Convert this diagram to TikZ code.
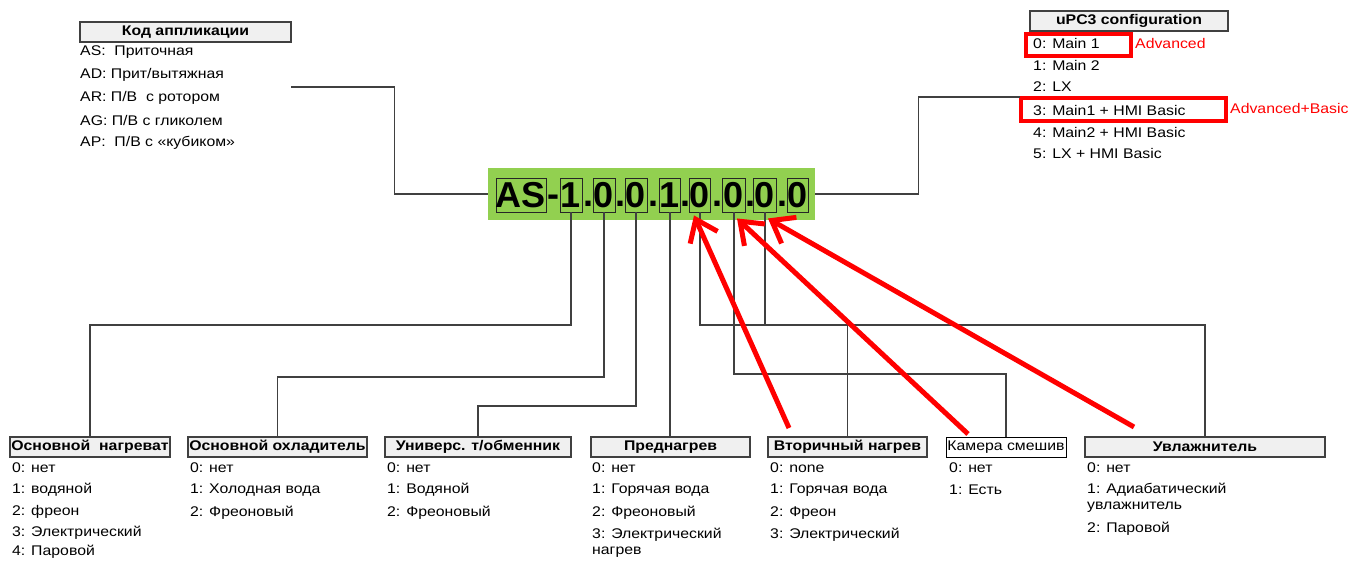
\documentclass[tikz,border=0pt]{standalone}
\usepackage{fontspec}
\setmainfont{Liberation Sans}[FakeStretch=1.13]
\newfontfamily\codefont{Liberation Sans}
\usetikzlibrary{arrows.meta}
\definecolor{codegreen}{HTML}{92D050}
\definecolor{hdrfill}{HTML}{F0F0F0}
\definecolor{redmark}{HTML}{FF0000}
\begin{document}
\begin{tikzpicture}[x=1pt,y=-1pt,
  font=\fontsize{14}{16}\selectfont,
  hdr/.style={draw=black!75, line width=1.5pt, fill=hdrfill, inner sep=0pt,
    minimum height=20pt, font=\bfseries\fontsize{14}{16}\selectfont},
  whitehdr/.style={draw=black, line width=1pt, fill=white, inner sep=1pt,
    minimum height=20pt, font=\fontsize{14}{16}\selectfont},
  item/.style={anchor=west, inner sep=0pt},
  dig/.style={draw=black!85, line width=0.9pt, minimum height=34pt, inner sep=0pt,
    font=\codefont\bfseries\fontsize{36}{36}\selectfont},
  sep/.style={anchor=base, inner sep=0pt, font=\codefont\bfseries\fontsize{36}{36}\selectfont},
  conn/.style={draw=black!75, line width=1.2pt},
  redbox/.style={draw=redmark, line width=3.5pt},
  redlbl/.style={anchor=west, inner sep=0pt, text=redmark, font=\fontsize{14}{16}\selectfont},
  redarrow/.style={draw=redmark, line width=5pt, -{Straight Barb[length=20pt,width=30pt]}}
]
\useasboundingbox (0,0) rectangle (1353,561);

% code block
\node[fill=codegreen, minimum width=327pt, minimum height=52pt, inner sep=0pt] (code) at (651.5,194) {};
\node[dig, minimum width=50pt] (as) at (521,195) {AS};
\node[sep] (hy) at (553,207) {-};
\node[dig, minimum width=22pt] (d1) at (571,195) {1};
\node[sep] (p1) at (588,207) {.};
\node[dig, minimum width=22pt] (d2) at (604,195) {0};
\node[sep] (p2) at (620,207) {.};
\node[dig, minimum width=22pt] (d3) at (636,195) {0};
\node[sep] (p3) at (653,207) {.};
\node[dig, minimum width=21pt] (d4) at (670,195) {1};
\node[sep] (p4) at (685,207) {.};
\node[dig, minimum width=21pt] (d5) at (700,195) {0};
\node[sep] (p5) at (717,207) {.};
\node[dig, minimum width=23pt] (d6) at (734,195) {0};
\node[sep] (p6) at (750,207) {.};
\node[dig, minimum width=23pt] (d7) at (765,195) {0};
\node[sep] (p7) at (782,207) {.};
\node[dig, minimum width=21pt] (d8) at (798,195) {0};

% top-left list
\node[hdr, minimum width=211pt] (kod) at (185.5,32) {Код аппликации};
\node[item] (k1) at (80,52) {AS:\ \ Приточная};
\node[item] (k2) at (80,75) {AD: Прит/вытяжная};
\node[item] (k3) at (80,98) {AR: П/В\ \ с ротором};
\node[item] (k4) at (80,120) {AG: П/В с гликолем};
\node[item] (k5) at (80,143) {AP:\ \ П/В с «кубиком»};

% top-right list
\node[hdr, minimum width=198pt] (upc) at (1129,21) {uPC3 configuration};
\node[item] (u0) at (1033,43) {0: Main 1};
\node[item] (u1) at (1033,65) {1: Main 2};
\node[item] (u2) at (1033,87) {2: LX};
\node[item] (u3) at (1033,110) {3: Main1 + HMI Basic};
\node[item] (u4) at (1033,132) {4: Main2 + HMI Basic};
\node[item] (u5) at (1033,153) {5: LX + HMI Basic};
\draw[redbox] (1026,34) rectangle (1131,56);
\draw[redbox] (1021,98) rectangle (1226,121);
\node[redlbl] (adv) at (1135,44) {Advanced};
\node[redlbl] (advb) at (1230,108) {Advanced+Basic};

% bottom headers
\node[hdr, minimum width=160pt] (h1) at (90,447) {Основной\ \ нагреват};
\node[hdr, minimum width=179pt] (h2) at (277.5,447) {Основной охладитель};
\node[hdr, minimum width=186pt] (h3) at (478,447) {Универс. т/обменник};
\node[hdr, minimum width=159pt] (h4) at (670.5,447) {Преднагрев};
\node[hdr, minimum width=159pt] (h5) at (847.5,447) {Вторичный нагрев};
\node[whitehdr, minimum width=120pt] (h6) at (1006,447) {Камера смешив};
\node[hdr, minimum width=240pt] (h7) at (1205,447) {Увлажнитель};

% bottom items
\node[item] at (12,468) {0: нет};
\node[item] at (12,490) {1: водяной};
\node[item] at (12,512) {2: фреон};
\node[item] at (12,533) {3: Электрический};
\node[item] at (12,552) {4: Паровой};

\node[item] at (190,468) {0: нет};
\node[item] at (190,490) {1: Холодная вода};
\node[item] at (190,513) {2: Фреоновый};

\node[item] at (387,468) {0: нет};
\node[item] at (387,490) {1: Водяной};
\node[item] at (387,513) {2: Фреоновый};

\node[item] at (592,468) {0: нет};
\node[item] at (592,490) {1: Горячая вода};
\node[item] at (592,513) {2: Фреоновый};
\node[item] at (592,535) {3: Электрический};
\node[item] at (592,552) {нагрев};

\node[item] at (770,468) {0: none};
\node[item] at (770,490) {1: Горячая вода};
\node[item] at (770,513) {2: Фреон};
\node[item] at (770,535) {3: Электрический};

\node[item] at (949,468) {0: нет};
\node[item] at (949,490) {1: Есть};

\node[item] at (1087,468) {0: нет};
\node[item] at (1087,490) {1: Адиабатический};
\node[item] at (1087,507) {увлажнитель};
\node[item] at (1087,529) {2: Паровой};

% connectors
\coordinate (lend) at (291,87);
\coordinate (rend) at (1020,97);
\draw[conn] (code.west) -- ++(-93,0) |- (lend);
\draw[conn] (code.east) -- ++(103,0) |- (rend);
\draw[conn] (d1.south) -- (d1.south |- 0,325) -| (h1.north);
\draw[conn] (d2.south) -- (d2.south |- 0,377) -| (h2.north);
\draw[conn] (d3.south) -- (d3.south |- 0,406) -| (h3.north);
\draw[conn] (d4.south) -- (d4.south |- h4.north);
\draw[conn] (d5.south) -- (d5.south |- 0,325) -| (h5.north);
\draw[conn] (d6.south) -- (d6.south |- 0,374) -| (h6.north);
\draw[conn] (d7.south) -- (d7.south |- 0,325) -| (h7.north);

% red arrows
\coordinate (a1) at (789,428);
\coordinate (a2) at (968,434);
\coordinate (a3) at (1134,427);
\draw[redarrow] (a1) -- ([xshift=-6pt,yshift=-3pt]d5.south);
\draw[redarrow] (a2) -- ([xshift=3pt,yshift=-6pt]d6.south);
\draw[redarrow] (a3) -- ([xshift=3pt,yshift=-6pt]d7.south);
\end{tikzpicture}
\end{document}
